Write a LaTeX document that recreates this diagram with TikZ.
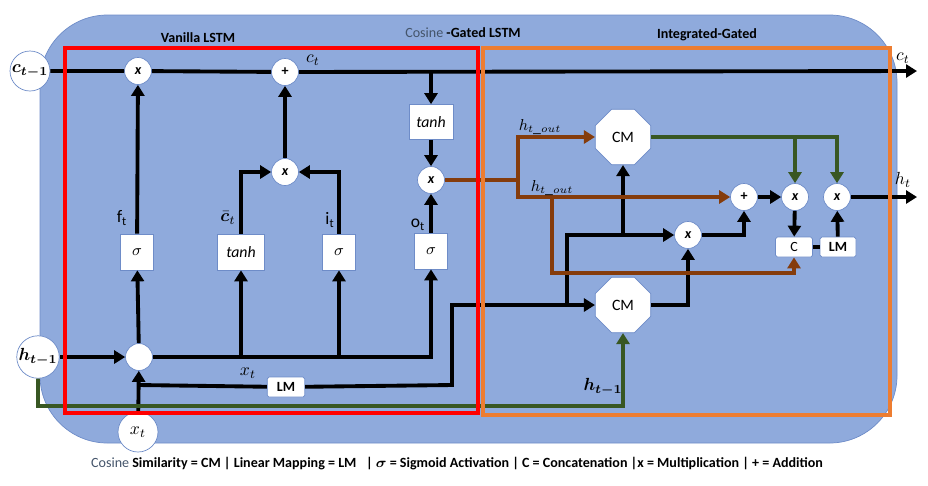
\documentclass[tikz,border=0pt]{standalone}
\usepackage{fontspec}
\setmainfont{Carlito}
\usepackage{bm}
\usetikzlibrary{arrows.meta,shapes.geometric}
\definecolor{panelblue}{RGB}{143,170,220}
\definecolor{paneledge}{RGB}{110,140,200}
\definecolor{lstmred}{RGB}{255,0,0}
\definecolor{intorange}{RGB}{237,125,49}
\definecolor{cmgreen}{RGB}{56,87,35}
\definecolor{outbrown}{RGB}{133,60,12}
\definecolor{cosgray}{RGB}{68,84,106}
\begin{document}
\begin{tikzpicture}[x=0.02cm, y=-0.02cm,
    flow/.style = {line width=2.2pt, -{Triangle[length=0.22cm,width=0.26cm]}},
    plain/.style = {line width=2.2pt},
    op/.style = {circle, fill=white, draw=paneledge, line width=0.4pt, minimum size=0.54cm, inner sep=0pt, font=\fontsize{8}{8}\selectfont\bfseries\itshape},
    io/.style = {circle, fill=white, draw=paneledge, line width=0.4pt, minimum size=0.8cm, inner sep=0pt, font=\normalsize},
    gate/.style = {rectangle, fill=white, draw=paneledge, line width=0.4pt, minimum width=0.66cm, minimum height=0.72cm, inner sep=0pt, font=\fontsize{9}{9}\selectfont},
    lmbox/.style = {rectangle, rounded corners=1pt, fill=white, draw=paneledge, line width=0.4pt, minimum width=0.75cm, minimum height=0.4cm, inner sep=0pt, font=\fontsize{8}{8}\selectfont\bfseries},
    cmbox/.style = {regular polygon, regular polygon sides=8, fill=white, draw=paneledge, line width=0.4pt, minimum size=1.2cm, inner sep=0pt, font=\fontsize{9}{9}\selectfont},
    title/.style = {font=\fontsize{8}{9}\selectfont\bfseries},
    lbl/.style = {font=\normalsize}
  ]
  \useasboundingbox (0,0) rectangle (928,485);
  \draw[fill=panelblue, draw=paneledge, rounded corners=1.35cm] (40,15) rectangle (897,443);

  % titles
  \node[title] (ttlvan) at (198,38) {Vanilla LSTM};
  \node[title] (ttlcos) at (463,33) {\textcolor{cosgray}{\mdseries Cosine} -Gated LSTM};
  \node[title] (ttlint) at (707,35) {Integrated-Gated};

  % vanilla lstm
  \node[io] (ctm) at (30,71) {$\bm{c_{t-1}}$};
  \node[io] (htm) at (38,357) {$\bm{h_{t-1}}$};
  \node[io] (xt) at (138,432) {$x_t$};
  \node[op] (mulf) at (138,71) {x};
  \node[op] (addc) at (285,72) {\upshape +};
  \node[op] (mulg) at (285,172) {x};
  \node[op] (multo) at (431,180) {x};
  \node[op] (cat) at (139,357) {};
  \node[gate] (sigf) at (137,252) {$\sigma$};
  \node[gate, minimum width=0.94cm] (tanhg) at (241,252) {\textit{tanh}};
  \node[gate] (sigi) at (339,252) {$\sigma$};
  \node[gate] (sigo) at (431,251) {$\sigma$};
  \node[gate, minimum width=0.88cm, minimum height=0.7cm] (tanhc) at (431,122) {\textit{tanh}};
  \node[lmbox] (lmx) at (286,387) {LM};

  % integrated gate
  \node[cmbox] (cmtop) at (623,137) {CM};
  \node[cmbox] (cmbot) at (623,305) {CM};
  \node[op] (mulcm) at (688,235) {x};
  \node[op] (addh) at (744,197) {\upshape +};
  \node[op] (mulh1) at (795,197) {x};
  \node[op] (mulh2) at (837,197) {x};
  \node[lmbox, minimum width=0.74cm] (concat) at (794,247) {\mdseries C};
  \node[lmbox, minimum width=0.72cm] (lmh) at (838,247) {LM};

  \coordinate (ctout) at (917,71);
  \coordinate (htout) at (917,197);
  \coordinate (cbr) at (431,71);
  \coordinate (lmst) at (139,385);
  \coordinate (xbend) at (452,385);
  \coordinate (jn1) at (567,305);
  \coordinate (hlow) at (623,406);
  \coordinate (bsplit) at (518,180);
  \coordinate (bbr) at (552,197);
  \coordinate (blow) at (552,273);

  % cell state
  \draw[flow] (ctm) -- (mulf) -- (addc) -- (ctout);
  \draw[flow] (cbr) -- (tanhc);
  \draw[flow] (tanhc) -- (multo);
  \draw[flow] (sigo) -- (multo);
  \draw[flow] (sigf) -- (mulf);
  \draw[flow] (tanhg) |- (mulg);
  \draw[flow] (sigi) |- (mulg);
  \draw[flow] (mulg) -- (addc);

  % inputs
  \draw[flow] (htm) -- (cat);
  \draw[flow] (xt) -- (cat);
  \draw[flow] (cat) -- (sigf);
  \draw[flow] (cat) -| (sigo);
  \draw[flow] (cat -| tanhg) -- (tanhg);
  \draw[flow] (cat -| sigi) -- (sigi);
  \draw[plain] (lmst) -- (lmx);
  \draw[flow] (lmx) -- (xbend) |- (cmbot);
  \draw[flow] (jn1) |- (mulcm);
  \draw[flow] (cmtop |- mulcm) -- (cmtop);

  % combine
  \draw[flow] (cmbot) -| (mulcm);
  \draw[flow] (mulcm) -| (addh);
  \draw[flow] (addh) -- (mulh1);
  \draw[flow] (mulh1) -- (concat);
  \draw[plain] (concat) -- (lmh);
  \draw[flow] (lmh) -- (mulh2);
  \draw[flow] (mulh2) -- (htout);

  \draw[flow, cmgreen] (cmtop) -| (mulh2);
  \draw[flow, cmgreen] (cmtop -| mulh1) -- (mulh1);
  \draw[flow, cmgreen] (htm) |- (hlow) -- (cmbot);

  \draw[plain, outbrown] (multo) -- (bsplit);
  \draw[flow, outbrown] (bsplit) |- (cmtop);
  \draw[flow, outbrown] (bsplit) |- (addh);
  \draw[flow, outbrown] (bbr) -- (blow) -| (concat);

  \draw[lstmred, line width=2.3pt] (65,48) rectangle (478,413);
  \draw[intorange, line width=2.3pt] (483,48) rectangle (890,415);

  % labels
  \node[lbl] (lct) at (313,60) {$c_t$};
  \node[lbl] (lctout) at (903,58) {$c_t$};
  \node[lbl] (lhtout) at (903,180) {$h_t$};
  \node[lbl] (lft) at (122,218) {$\mathrm{f_t}$};
  \node[lbl] (lcbar) at (228,218) {$\bm{\bar{c}}_t$};
  \node[lbl] (lit) at (330,220) {$\mathrm{i_t}$};
  \node[lbl] (lot) at (418,225) {$\mathrm{o_t}$};
  \node[lbl] (lxt) at (248,373) {$x_t$};
  \node[lbl, font=\small] (lhout1) at (540,127) {$h_{t\_out}$};
  \node[lbl, font=\small] (lhout2) at (552,188) {$h_{t\_out}$};
  \node[lbl] (lhtm) at (603,387) {$\bm{h_{t-1}}$};

  \node[font=\fontsize{8}{9}\selectfont\bfseries] (legend) at (457,464) {\textcolor{cosgray}{\mdseries Cosine} Similarity = CM | Linear Mapping = LM \ \ | $\bm{\sigma}$ = Sigmoid Activation | C = Concatenation |x = Multiplication | + = Addition};
\end{tikzpicture}
\end{document}
